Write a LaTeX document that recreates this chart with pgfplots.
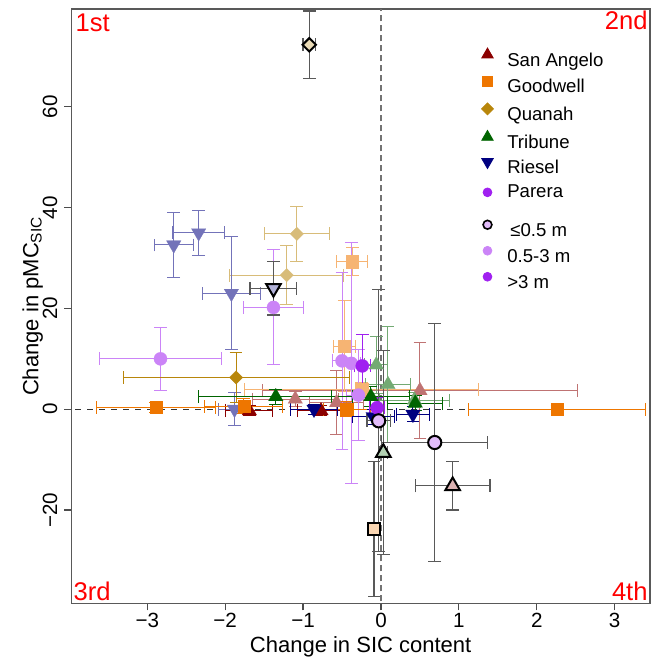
\documentclass[border=0pt]{standalone}
\usepackage{fontspec}
\setmainfont{Liberation Sans}
\usepackage{pgfplots}
\pgfplotsset{compat=1.18}

% site colours: full (>3 m), lighter (0.5-3 m), palest (<=0.5 m)
\definecolor{cSA}{HTML}{8B0000}
\definecolor{cGW}{HTML}{EE7600}
\definecolor{cQU}{HTML}{B8860B}
\definecolor{cTR}{HTML}{006400}
\definecolor{cRI}{HTML}{000080}
\definecolor{cPA}{HTML}{A020F0}
\colorlet{mSA}{cSA!55!white}
\colorlet{mGW}{cGW!55!white}
\colorlet{mQU}{cQU!55!white}
\colorlet{mTR}{cTR!55!white}
\colorlet{mRI}{cRI!55!white}
\colorlet{mPA}{cPA!55!white}
\colorlet{lSA}{cSA!30!white}
\colorlet{lGW}{cGW!30!white}
\colorlet{lQU}{cQU!30!white}
\colorlet{lTR}{cTR!30!white}
\colorlet{lRI}{cRI!30!white}
\colorlet{lPA}{cPA!30!white}
\colorlet{barG}{black!65}

% R-like diamond and down triangle
\pgfdeclareplotmark{rdiamond*}{%
  \pgfpathmoveto{\pgfqpoint{0pt}{\pgfplotmarksize}}%
  \pgfpathlineto{\pgfqpoint{\pgfplotmarksize}{0pt}}%
  \pgfpathlineto{\pgfqpoint{0pt}{-\pgfplotmarksize}}%
  \pgfpathlineto{\pgfqpoint{-\pgfplotmarksize}{0pt}}%
  \pgfpathclose\pgfusepathqfillstroke}
\pgfdeclareplotmark{dtri*}{%
  \pgfpathmoveto{\pgfqpoint{0pt}{-\pgfplotmarksize}}%
  \pgfpathlineto{\pgfqpointpolar{30}{\pgfplotmarksize}}%
  \pgfpathlineto{\pgfqpointpolar{150}{\pgfplotmarksize}}%
  \pgfpathclose\pgfusepathqfillstroke}

\pgfplotsset{
  grp/.style n args={4}{% mark, size, fill, bar colour
    only marks, forget plot, mark=#1, mark size=#2,
    mark options={solid, fill=#3, draw=#3, line width=0.1pt},
    error bars/.cd, x dir=both, x explicit, y dir=both, y explicit,
    error bar style={#4, line width=0.5pt, solid},
    error mark options={rotate=90, mark size=3.2pt, #4, line width=0.5pt}},
  outl/.style n args={3}{% mark, size, fill
    only marks, forget plot, mark=#1, mark size=#2,
    mark options={solid, fill=#3, draw=black, line width=1pt},
    error bars/.cd, x dir=both, x explicit, y dir=both, y explicit,
    error bar style={barG, line width=0.6pt, solid},
    error mark options={rotate=90, mark size=3.2pt, barG, line width=0.6pt}},
}

\begin{document}
\begin{tikzpicture}
\begin{axis}[
  at={(0,0)}, anchor=south west,
  scale only axis, width=289.35pt, height=297.15pt,
  xmin=-3.975, xmax=3.453, ymin=-38.5, ymax=79.4,
  axis line style={draw=black!65, line width=0.6pt},
  tick style={black!70, line width=0.6pt},
  tick align=outside, major tick length=3.5pt,
  xtick pos=left, ytick pos=left,
  xtick={-3,...,3}, xticklabels={−3,−2,−1,0,1,2,3},
  ytick={-20,0,20,40,60}, yticklabels={−20,0,20,40,60},
  xticklabel style={yshift=2pt},
  yticklabel style={rotate=90, anchor=south},
  tick label style={font=\fontsize{10.3}{12}\selectfont},
  xlabel={Change in SIC content},
  ylabel={Change in pMC\textsubscript{SIC}},
  xlabel style={at={(axis description cs:0.5,-0.0836)}, anchor=base},
  ylabel style={at={(axis description cs:-0.057,0.5)}, anchor=base},
  label style={font=\fontsize{11}{13}\selectfont},
  legend image code/.code={\path (-3.5pt,0pt) (3.5pt,0pt);
    \draw[#1] plot coordinates {(0pt,3.3pt)};},
  legend cell align=left,
  legend style={at={(axis description cs:0.7057,0.935)}, anchor=north west,
    draw=none, fill=none, inner sep=0pt,
    font=\fontsize{9.3}{11}\selectfont,
    column sep=6.2pt, row sep=3.0pt,
    nodes={inner sep=0pt, text height=7pt, text depth=2pt}},
]
% zero reference lines
\addplot[forget plot, black!80, dashed, line width=0.5pt] coordinates {(-5,0) (5,0)};
\addplot[forget plot, black!55, densely dashed, line width=0.6pt] coordinates {(0,-50) (0,90)};

% 0.5-3 m
\addplot[grp={triangle*}{4.2pt}{mSA}{mSA}] table[x=x,y=y,x error=ex,y error=ey] {
x y ex ey
-1.10 2.0 0.55 1.5
-0.57 1.3 0.35 6.3
0.50 3.7 2.02 9.5
};
\addplot[grp={square*}{3.1pt}{mGW}{mGW}] table[x=x,y=y,x error=ex,y error=ey] {
x y ex ey
-0.37 29.3 0.20 2.7
-0.47 12.5 0.14 9.0
-0.25 3.9 1.50 1.5
};
\addplot[grp={rdiamond*}{3.35pt}{mQU}{mQU}] table[x=x,y=y,x error=ex,y error=ey] {
x y ex ey
-1.08 34.8 0.42 5.4
-1.21 26.6 0.73 5.9
};
\addplot[grp={triangle*}{4.2pt}{mTR}{mTR}] table[x=x,y=y,x error=ex,y error=ey] {
x y ex ey
-0.06 8.8 0.15 5.7
0.09 4.9 0.29 11.5
0.43 1.8 0.45 1.5
};
\addplot[grp={dtri*}{4.2pt}{mRI}{mRI}] table[x=x,y=y,x error=ex,y error=ey] {
x y ex ey
-2.66 32.6 0.25 6.4
-2.34 35.0 0.33 4.5
-1.92 23.0 0.37 11.2
-1.88 0.0 0.20 3.3
};
\addplot[grp={*}{3.3pt}{mPA}{mPA}] table[x=x,y=y,x error=ex,y error=ey] {
x y ex ey
-2.83 10.0 0.78 6.2
-1.38 20.2 0.38 11.4
-0.50 9.6 0.12 17.6
-0.38 9.1 0.12 23.9
-0.29 2.8 0.15 9.0
};

% >3 m
\addplot[grp={triangle*}{4.2pt}{cSA}{cSA}] table[x=x,y=y,x error=ex,y error=ey] {
x y ex ey
-1.69 -0.3 0.30 1.0
-0.77 -0.3 0.30 1.0
};
\addplot[grp={square*}{3.1pt}{cGW}{cGW}] table[x=x,y=y,x error=ex,y error=ey] {
x y ex ey
-2.89 0.4 0.76 1.0
-1.76 0.6 0.50 1.5
-0.44 0.0 0.30 1.5
2.26 0.0 1.14 0.8
};
\addplot[grp={rdiamond*}{3.35pt}{cQU}{cQU}] table[x=x,y=y,x error=ex,y error=ey] {
x y ex ey
-1.86 6.3 1.45 4.9
};
\addplot[grp={triangle*}{4.2pt}{cTR}{cTR}] table[x=x,y=y,x error=ex,y error=ey] {
x y ex ey
-1.35 2.5 0.99 1.5
-0.13 2.5 0.50 2.0
0.44 1.2 0.35 1.5
};
\addplot[grp={dtri*}{4.2pt}{cRI}{cRI}] table[x=x,y=y,x error=ex,y error=ey] {
x y ex ey
-0.86 0.0 0.30 1.0
-0.10 -1.5 0.27 1.5
0.41 -1.0 0.21 1.5
};
\addplot[grp={*}{3.3pt}{cPA}{cPA}] table[x=x,y=y,x error=ex,y error=ey] {
x y ex ey
-0.24 8.6 0.10 6.3
-0.05 0.3 0.10 2.0
};

% <=0.5 m
\addplot[outl={rdiamond*}{3.35pt}{lQU}] table[x=x,y=y,x error=ex,y error=ey] {
x y ex ey
-0.92 72.3 0.08 6.7
};
\addplot[outl={dtri*}{4.2pt}{lRI}] table[x=x,y=y,x error=ex,y error=ey] {
x y ex ey
-1.38 24.0 0.30 5.3
};
\addplot[outl={square*}{3.1pt}{lGW}] table[x=x,y=y,x error=ex,y error=ey] {
x y ex ey
-0.09 -23.8 0.05 13.4
};
\addplot[outl={triangle*}{4.2pt}{lTR}] table[x=x,y=y,x error=ex,y error=ey] {
x y ex ey
0.03 -8.6 0.05 20.2
};
\addplot[outl={triangle*}{4.2pt}{lSA}] table[x=x,y=y,x error=ex,y error=ey] {
x y ex ey
0.92 -15.2 0.48 4.8
};
\addplot[outl={*}{3.3pt}{lPA}] table[x=x,y=y,x error=ex,y error=ey] {
x y ex ey
-0.03 -2.3 0.15 26.0
0.69 -6.6 0.68 23.6
};

% legend
\addlegendimage{only marks, mark=triangle*, mark size=3.3pt, mark options={fill=cSA, draw=cSA}}
\addlegendentry{San Angelo}
\addlegendimage{only marks, mark=square*, mark size=2.5pt, mark options={fill=cGW, draw=cGW}}
\addlegendentry{Goodwell}
\addlegendimage{only marks, mark=rdiamond*, mark size=3.0pt, mark options={fill=cQU, draw=cQU}}
\addlegendentry{Quanah}
\addlegendimage{only marks, mark=triangle*, mark size=3.3pt, mark options={fill=cTR, draw=cTR}}
\addlegendentry{Tribune}
\addlegendimage{only marks, mark=dtri*, mark size=3.3pt, mark options={fill=cRI, draw=cRI}}
\addlegendentry{Riesel}
\addlegendimage{only marks, mark=*, mark size=2.2pt, mark options={fill=cPA, draw=cPA}}
\addlegendentry[text depth=8.4pt]{Parera}
\addlegendimage{only marks, mark=*, mark size=2.2pt, mark options={fill=lPA, draw=black, line width=0.8pt}}
\addlegendentry{\,≤0.5 m}
\addlegendimage{only marks, mark=*, mark size=2.2pt, mark options={fill=mPA, draw=mPA}}
\addlegendentry{0.5-3 m}
\addlegendimage{only marks, mark=*, mark size=2.2pt, mark options={fill=cPA, draw=cPA}}
\addlegendentry{>3 m}

% quadrant labels
\node[anchor=north west, text=red, inner sep=2pt, font=\fontsize{12.8}{14}\selectfont] at (rel axis cs:0,1) {1st};
\node[anchor=north east, text=red, inner sep=1pt, font=\fontsize{12.8}{14}\selectfont] at (rel axis cs:1,1) {2nd};
\node[anchor=south west, text=red, inner sep=1pt, font=\fontsize{12.8}{14}\selectfont] at (rel axis cs:0,0) {3rd};
\node[anchor=south east, text=red, inner sep=1pt, font=\fontsize{12.8}{14}\selectfont] at (rel axis cs:1,0) {4th};
\end{axis}
\pgfresetboundingbox
\path (-35.65pt,-28.85pt) rectangle (289.85pt,301.65pt);
\end{tikzpicture}
\end{document}
